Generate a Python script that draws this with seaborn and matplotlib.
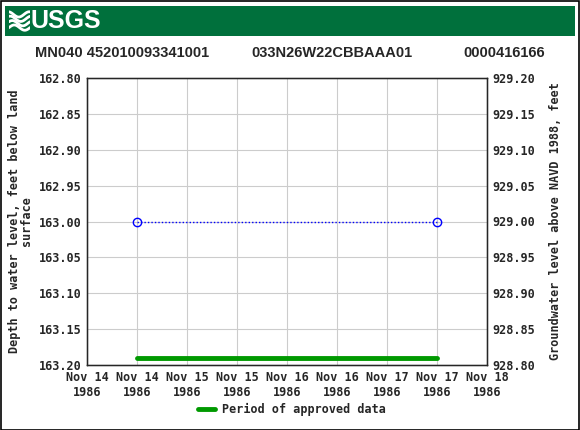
import matplotlib
matplotlib.use("Agg")
import matplotlib.pyplot as plt
import seaborn as sns
import pandas as pd
import numpy as np
from matplotlib.patches import Rectangle

# ---- data ----
obs_times = ["1986-11-14 12:00", "1986-11-17 12:00"]
obs_depth = [163.00, 163.00]
approved_period = ["1986-11-14 12:00", "1986-11-17 12:00"]
approved_level = [163.19, 163.19]
tick_times = ["1986-11-14 00:00", "1986-11-14 12:00", "1986-11-15 00:00", "1986-11-15 12:00",
              "1986-11-16 00:00", "1986-11-16 12:00", "1986-11-17 00:00", "1986-11-17 12:00",
              "1986-11-18 00:00"]
tick_labels = ["Nov 14\n1986", "Nov 14\n1986", "Nov 15\n1986", "Nov 15\n1986", "Nov 16\n1986",
               "Nov 16\n1986", "Nov 17\n1986", "Nov 17\n1986", "Nov 18\n1986"]
left_ticks = [162.80, 162.85, 162.90, 162.95, 163.00, 163.05, 163.10, 163.15, 163.20]
right_ticks = [929.20, 929.15, 929.10, 929.05, 929.00, 928.95, 928.90, 928.85, 928.80]
title_parts = ["MN040 452010093341001", "033N26W22CBBAAA01", "0000416166"]

sns.set_style("white")
mono = ["DejaVu Sans Mono"]
sans = ["Liberation Sans", "DejaVu Sans"]

t0 = pd.Timestamp(tick_times[0])
def hrs(s):
    return [(pd.Timestamp(x) - t0).total_seconds() / 3600.0 for x in s]

obs = pd.DataFrame({"t": hrs(obs_times), "d": obs_depth})
appr = pd.DataFrame({"t": hrs(approved_period), "d": approved_level})

W, H = 580, 430
fig = plt.figure(figsize=(5.8, 4.3), dpi=100)
fig.patch.set_facecolor("white")
# border
fig.add_artist(Rectangle((0.001, 0.001), 0.997, 0.997, transform=fig.transFigure,
                         fill=False, edgecolor="black", linewidth=1.2))
# header band
fig.add_artist(Rectangle((5/W, 1 - 36/H), 570/W, 30/H, transform=fig.transFigure,
                         facecolor="#00703c", edgecolor="none"))
# logo icon (wave lines)
iax = fig.add_axes([9/W, 1 - 32/H, 21/W, 22/H])
iax.set_zorder(5)
iax.patch.set_visible(False)
iax.set_axis_off()
xs = np.linspace(0, 1, 60)
for k, off in enumerate([0.2, 0.4, 0.6, 0.8]):
    iax.plot(xs, off + 0.12 * np.sin(2 * np.pi * xs + k * 0.6), color="white", linewidth=2.0)
iax.set_xlim(0, 1)
iax.set_ylim(0, 1)
fig.text(31/W, 1 - 21.5/H, "USGS", color="white", fontsize=18, fontweight="bold",
         va="center", ha="left", family=sans, zorder=6)

fig.text(35/W, 1 - 53/H, title_parts[0], fontsize=10.5, fontweight="bold",
         family=sans, va="center", ha="left")
fig.text(332/W, 1 - 53/H, title_parts[1], fontsize=10.5, fontweight="bold",
         family=sans, va="center", ha="center")
fig.text(545/W, 1 - 53/H, title_parts[2], fontsize=10.5, fontweight="bold",
         family=sans, va="center", ha="right")

ax = fig.add_axes([87/W, 65/H, 400/W, 287/H])
sns.lineplot(data=obs, x="t", y="d", ax=ax, color="#0000ff", linestyle=(0, (1, 1.5)),
             linewidth=1, marker="o", markersize=6, markerfacecolor="none",
             markeredgecolor="#0000ff", markeredgewidth=1)
sns.lineplot(data=appr, x="t", y="d", ax=ax, color="#009900", linewidth=3.5)

ax.set_xlim(0, 96)
ax.set_ylim(163.20, 162.80)
ax.set_xticks(hrs(tick_times))
ax.set_xticklabels(tick_labels, family=mono, fontsize=8.5, fontweight="bold")
ax.set_yticks(left_ticks)
ax.set_yticklabels([f"{v:.2f}" for v in left_ticks], family=mono, fontsize=8.5, fontweight="bold")
ax.grid(True, color="#cccccc", linewidth=0.8)
ax.set_xlabel("")
ax.set_ylabel("Depth to water level, feet below land\nsurface", family=mono, fontsize=8.5,
              fontweight="bold", labelpad=4, linespacing=0.95)
for s in ax.spines.values():
    s.set_color("black")
    s.set_linewidth(1)
ax.tick_params(axis="both", length=0, pad=4)

ax2 = ax.twinx()
ax2.set_ylim(928.80, 929.20)
ax2.set_yticks(right_ticks)
ax2.set_yticklabels([f"{v:.2f}" for v in right_ticks], family=mono, fontsize=8.5, fontweight="bold")
ax2.tick_params(axis="y", length=0, pad=4)
ax2.set_ylabel("Groundwater level above NAVD 1988, feet", family=mono, fontsize=8.5,
               fontweight="bold", labelpad=10)
ax2.grid(False)

# legend
fig.add_artist(plt.Line2D([198/W, 215/W], [1 - 409/H, 1 - 409/H], color="#009900",
                          linewidth=3.5, transform=fig.transFigure))
fig.text(222/W, 1 - 409/H, "Period of approved data", family=mono, fontsize=8.5,
         fontweight="bold", va="center", ha="left")

fig.savefig("out.png", dpi=100)
